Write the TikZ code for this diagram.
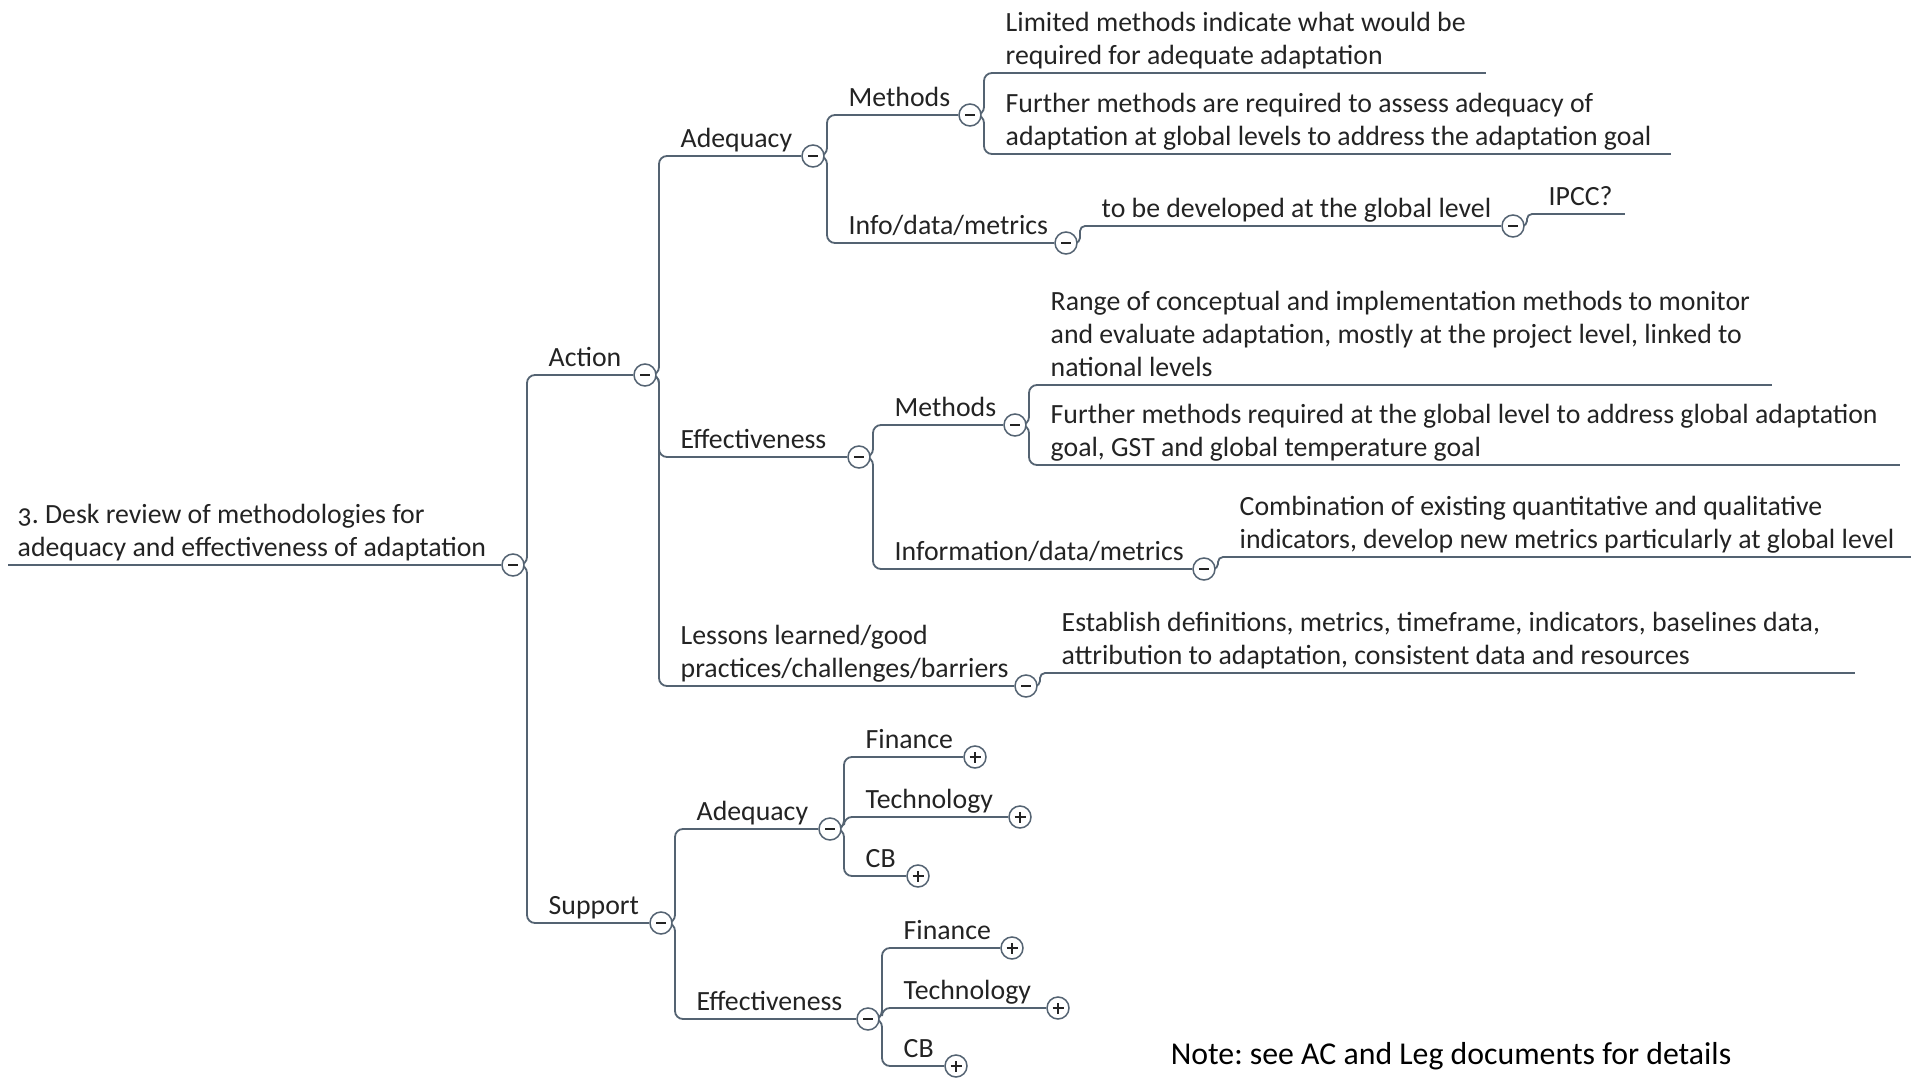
\documentclass[tikz,border=0pt]{standalone}
\usepackage{fontspec}
\setmainfont[Numbers=OldStyle]{Carlito}
\frenchspacing
\usetikzlibrary{calc}
\pgfdeclarelayer{bg}
\pgfsetlayers{bg,main}
\definecolor{linec}{RGB}{84,99,114}
\definecolor{txtc}{RGB}{35,35,35}
\tikzstyle{link} = [draw=linec, line width=1.8pt]
\tikzstyle{topic} = [anchor=south west, align=left, inner xsep=9.5pt, inner ysep=0pt, text=txtc, execute at end node={\rule[-8pt]{0pt}{8pt}}]
\tikzstyle{toggle} = [circle, draw=linec, line width=1.5pt, fill=white, minimum size=22pt, inner sep=0pt]
\tikzstyle{collapse} = [toggle, path picture={\draw[txtc, line width=1.8pt] ([xshift=-5pt]path picture bounding box.center) -- ([xshift=5pt]path picture bounding box.center);}]
\tikzstyle{expand} = [toggle, path picture={\draw[txtc, line width=1.8pt] ([xshift=-5.5pt]path picture bounding box.center) -- ([xshift=5.5pt]path picture bounding box.center) ([yshift=-5.5pt]path picture bounding box.center) -- ([yshift=5.5pt]path picture bounding box.center);}]
% elbow from a toggle to the start of a child's underline
\newcommand{\branch}[3][8pt]{\draw[link, rounded corners=#1] let \p1=(#2.center), \p2=(#3.south west) in (\p1) -- (\x1+14pt,\y1) -- (\x1+14pt,\y2) -- (\p2);}

\begin{document}
\begin{tikzpicture}[x=1pt, y=-1pt, font=\fontsize{27.8}{33}\selectfont]
    \useasboundingbox (0,0) rectangle (1915,1081);

    % Root and first level
    \node[topic] (root) at (8,565) {3. Desk review of methodologies for\\adequacy and effectiveness of adaptation};
    \node[collapse] (tRoot) at (513,565) {};
    \node[topic] (action) at (539,375) {Action};
    \node[collapse] (tAction) at (645,375) {};
    \node[topic] (support) at (539,923) {Support};
    \node[collapse] (tSupport) at (661,923) {};

    % Action
    \node[topic] (adeqA) at (671,156) {Adequacy};
    \node[collapse] (tAdeqA) at (813,156) {};
    \node[topic] (effA) at (671,457) {Effectiveness};
    \node[collapse] (tEffA) at (859,457) {};
    \node[topic] (lessons) at (671,686) {Lessons learned/good\\practices/challenges/barriers};
    \node[collapse] (tLessons) at (1026,686) {};

    \node[topic] (methA) at (839,115) {Methods};
    \node[collapse] (tMethA) at (970,115) {};
    \node[topic] (infoA) at (839,243) {Info/data/metrics};
    \node[collapse] (tInfoA) at (1066,243) {};
    \node[topic] (lim) at (996,73) {Limited methods indicate what would be\\required for adequate adaptation};
    \node[topic] (furA) at (996,154) {Further methods are required to assess adequacy of\\adaptation at global levels to address the adaptation goal};
    \node[topic] (dev) at (1092,226) {to be developed at the global level};
    \node[collapse] (tDev) at (1513,226) {};
    \node[topic] (ipcc) at (1539,214) {IPCC?};

    \node[topic] (methE) at (885,425) {Methods};
    \node[collapse] (tMethE) at (1015,425) {};
    \node[topic] (infoE) at (885,569) {Information/data/metrics};
    \node[collapse] (tInfoE) at (1204,569) {};
    \node[topic] (range) at (1041,385) {Range of conceptual and implementation methods to monitor\\and evaluate adaptation, mostly at the project level, linked to\\national levels};
    \node[topic] (furE) at (1041,465) {Further methods required at the global level to address global adaptation\\goal, GST and global temperature goal};
    \node[topic] (comb) at (1230,557) {Combination of existing quantitative and qualitative\\indicators, develop new metrics particularly at global level};
    \node[topic] (est) at (1052,673) {Establish definitions, metrics, timeframe, indicators, baselines data,\\attribution to adaptation, consistent data and resources};

    % Support
    \node[topic] (adeqS) at (687,829) {Adequacy};
    \node[collapse] (tAdeqS) at (830,829) {};
    \node[topic] (effS) at (687,1019) {Effectiveness};
    \node[collapse] (tEffS) at (868,1019) {};
    \node[topic] (finS1) at (856,757) {Finance};
    \node[expand] (tFinS1) at (975,757) {};
    \node[topic] (tecS1) at (856,817) {Technology};
    \node[expand] (tTecS1) at (1020,817) {};
    \node[topic] (cbS1) at (856,876) {CB};
    \node[expand] (tCbS1) at (918,876) {};
    \node[topic] (finS2) at (894,948) {Finance};
    \node[expand] (tFinS2) at (1012,948) {};
    \node[topic] (tecS2) at (894,1008) {Technology};
    \node[expand] (tTecS2) at (1058,1008) {};
    \node[topic] (cbS2) at (894,1066) {CB};
    \node[expand] (tCbS2) at (956,1066) {};

    \node[font=\fontsize{31.8}{36}\selectfont] (note) at (1451,1056) {Note: see AC and Leg documents for details};

    % Lines
    \begin{pgfonlayer}{bg}
    \foreach \t/\g in {root/tRoot, action/tAction, support/tSupport, adeqA/tAdeqA, effA/tEffA, lessons/tLessons,
        methA/tMethA, infoA/tInfoA, dev/tDev, methE/tMethE, infoE/tInfoE, adeqS/tAdeqS, effS/tEffS,
        finS1/tFinS1, tecS1/tTecS1, cbS1/tCbS1, finS2/tFinS2, tecS2/tTecS2, cbS2/tCbS2}
        \draw[link] (\t.south west) -- (\g);
    \foreach \t/\w in {lim/490, furA/675, ipcc/86, range/731, furE/859, comb/681, est/803}
        \draw[link] (\t.south west) -- +(\w,0);

    \branch{tRoot}{action}
    \branch{tRoot}{support}
    \branch{tAction}{adeqA}
    \branch{tAction}{effA}
    \branch{tAction}{lessons}
    \branch{tAdeqA}{methA}
    \branch{tAdeqA}{infoA}
    \branch{tMethA}{lim}
    \branch{tMethA}{furA}
    \branch[5pt]{tInfoA}{dev}
    \branch[5pt]{tDev}{ipcc}
    \branch{tEffA}{methE}
    \branch{tEffA}{infoE}
    \branch{tMethE}{range}
    \branch{tMethE}{furE}
    \branch[5pt]{tInfoE}{comb}
    \branch[5pt]{tLessons}{est}
    \branch{tSupport}{adeqS}
    \branch{tSupport}{effS}
    \branch{tAdeqS}{finS1}
    \branch{tAdeqS}{tecS1}
    \branch{tAdeqS}{cbS1}
    \branch{tEffS}{finS2}
    \branch{tEffS}{tecS2}
    \branch{tEffS}{cbS2}
    \end{pgfonlayer}
\end{tikzpicture}
\end{document}
